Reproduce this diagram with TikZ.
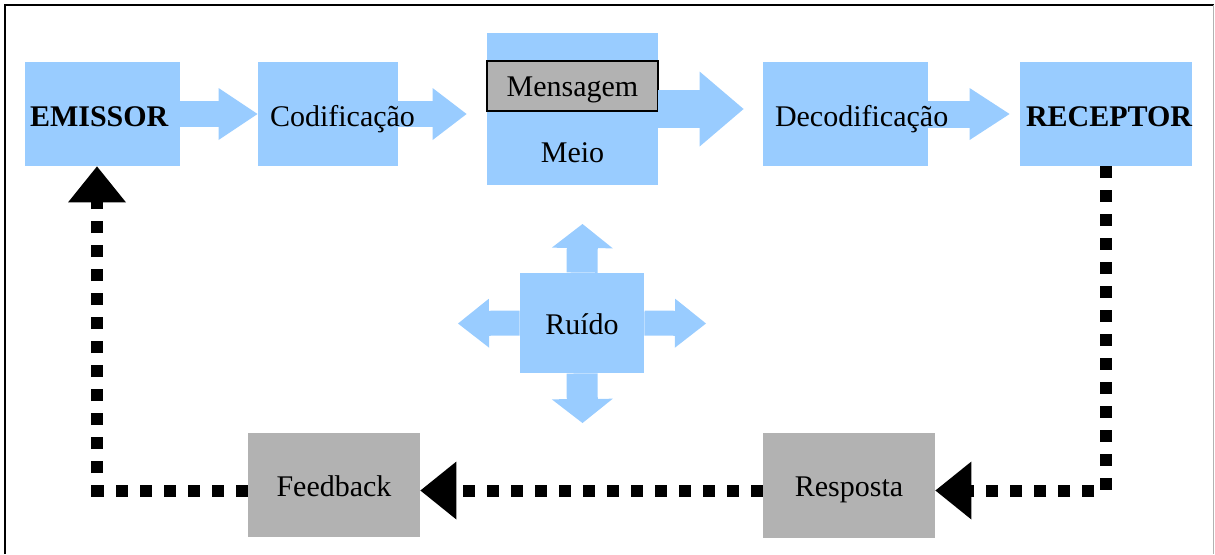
\documentclass[tikz,border=0pt]{standalone}
\usepackage{fontspec}
\setmainfont{Liberation Serif}
\usetikzlibrary{arrows.meta,positioning}

\definecolor{skyblue}{HTML}{99CCFF}
\definecolor{boxgray}{HTML}{B2B2B2}

\tikzset{
	box/.style = {shape=rectangle, inner sep=0pt, font=\fontsize{15pt}{18pt}\selectfont,
		text height=11pt, text depth=0pt},
	bluebox/.style = {box, fill=skyblue},
	graybox/.style = {box, fill=boxgray},
	txt/.style = {inner sep=0pt, font=\fontsize{15pt}{18pt}\selectfont,
		text height=12pt, text depth=0pt},
	flow/.style args = {#1/#2/#3}{draw=skyblue, line width=#1,
		-{Triangle[length=#3, width=#2, line width=0pt, fill=skyblue]}},
	loop/.style = {draw=black, line width=6pt, dash pattern=on 6pt off 6pt,
		-{Triangle[length=18pt, width=29pt, line width=0pt]}}
}

\begin{document}
\begin{tikzpicture}[x=0.5pt, y=-0.5pt]
	\useasboundingbox (0,0) rectangle (1215,554);
	% frame
	\draw[line width=1pt] (5,554) -- (5,4.5) -- (1213.5,4.5);
	\draw[black!30, line width=0.6pt] (1213.5,4.5) -- (1213.5,554);

	% boxes of the chain
	\node[bluebox, minimum width=77.5pt, minimum height=52pt] (emissor) at (102.5,114) {};
	\node[bluebox, minimum width=70pt, minimum height=52pt] (codif) at (328,114) {};
	\node[bluebox, minimum width=85.5pt, minimum height=76pt] (meio) at (572.5,109) {};
	\node[graybox, draw=black, line width=1pt, minimum width=85.5pt, minimum height=25pt]
		(mensagem) at (572.5,85.5) {Mensagem};
	\node[bluebox, minimum width=82.5pt, minimum height=52pt] (decod) at (845.5,114) {};
	\node[bluebox, minimum width=86pt, minimum height=52pt] (receptor) at (1106,114) {};

	% noise and answer
	\node[bluebox, minimum width=62pt, minimum height=50pt] (ruido) at (582,323) {Ruído};
	\node[graybox, minimum width=86pt, minimum height=52pt] (feedback) at (334,485) {Feedback};
	\node[graybox, minimum width=86pt, minimum height=52.5pt] (resposta) at (849,485.5) {Resposta};

	% block arrows
	\draw[flow={13pt/26pt/19.5pt}] (emissor.east) -- (codif.west);
	\draw[flow={13pt/26pt/17pt}, shorten >=10pt] (codif.east) -- (codif.east -| meio.west);
	\draw[flow={19pt/37.5pt/22pt}, shorten >=9.5pt] (meio.east) -- (meio.east -| decod.west);
	\draw[flow={13.5pt/26pt/20pt}, shorten >=5pt] (decod.east) -- (receptor.west);

	\coordinate (noiseup) at (582.5,224);
	\coordinate (noisedown) at (582.5,423);
	\coordinate (noiseleft) at (458,323.5);
	\coordinate (noiseright) at (706,323.5);
	\draw[flow={15.5pt/30.5pt/12pt}] (ruido.north) -- (noiseup);
	\draw[flow={15.5pt/30.5pt/12pt}] (ruido.south) -- (noisedown);
	\draw[flow={12.5pt/24.5pt/15.5pt}] (ruido.west) -- (noiseleft);
	\draw[flow={12.5pt/24.5pt/15.5pt}] (ruido.east) -- (noiseright);

	% texts of the chain
	\node[txt, font=\fontsize{15pt}{18pt}\selectfont\bfseries, right=2.5pt of emissor.west] (emissortxt) {EMISSOR};
	\node[txt, right=6pt of codif.west] (codiftxt) {Codificação};
	\node[txt] (meiotxt) at ([yshift=-20.5pt]meio.center) {Meio};
	\node[txt, right=6pt of decod.west] (decodtxt) {Decodificação};
	\node[txt, font=\fontsize{15pt}{18pt}\selectfont\bfseries, right=3pt of receptor.west] (receptortxt) {RECEPTOR};

	% feedback loop
	\coordinate (loopline) at (0,490.5);
	\coordinate (loopturn) at (97,490.5);
	\draw[loop] (receptor.south) -- (receptor.south |- loopline) -- (resposta.east |- loopline);
	\draw[loop] (resposta.west |- loopline) -- (feedback.east |- loopline);
	\draw[loop] (feedback.west |- loopline) -- (loopturn) -- (loopturn |- emissor.south);
\end{tikzpicture}
\end{document}
